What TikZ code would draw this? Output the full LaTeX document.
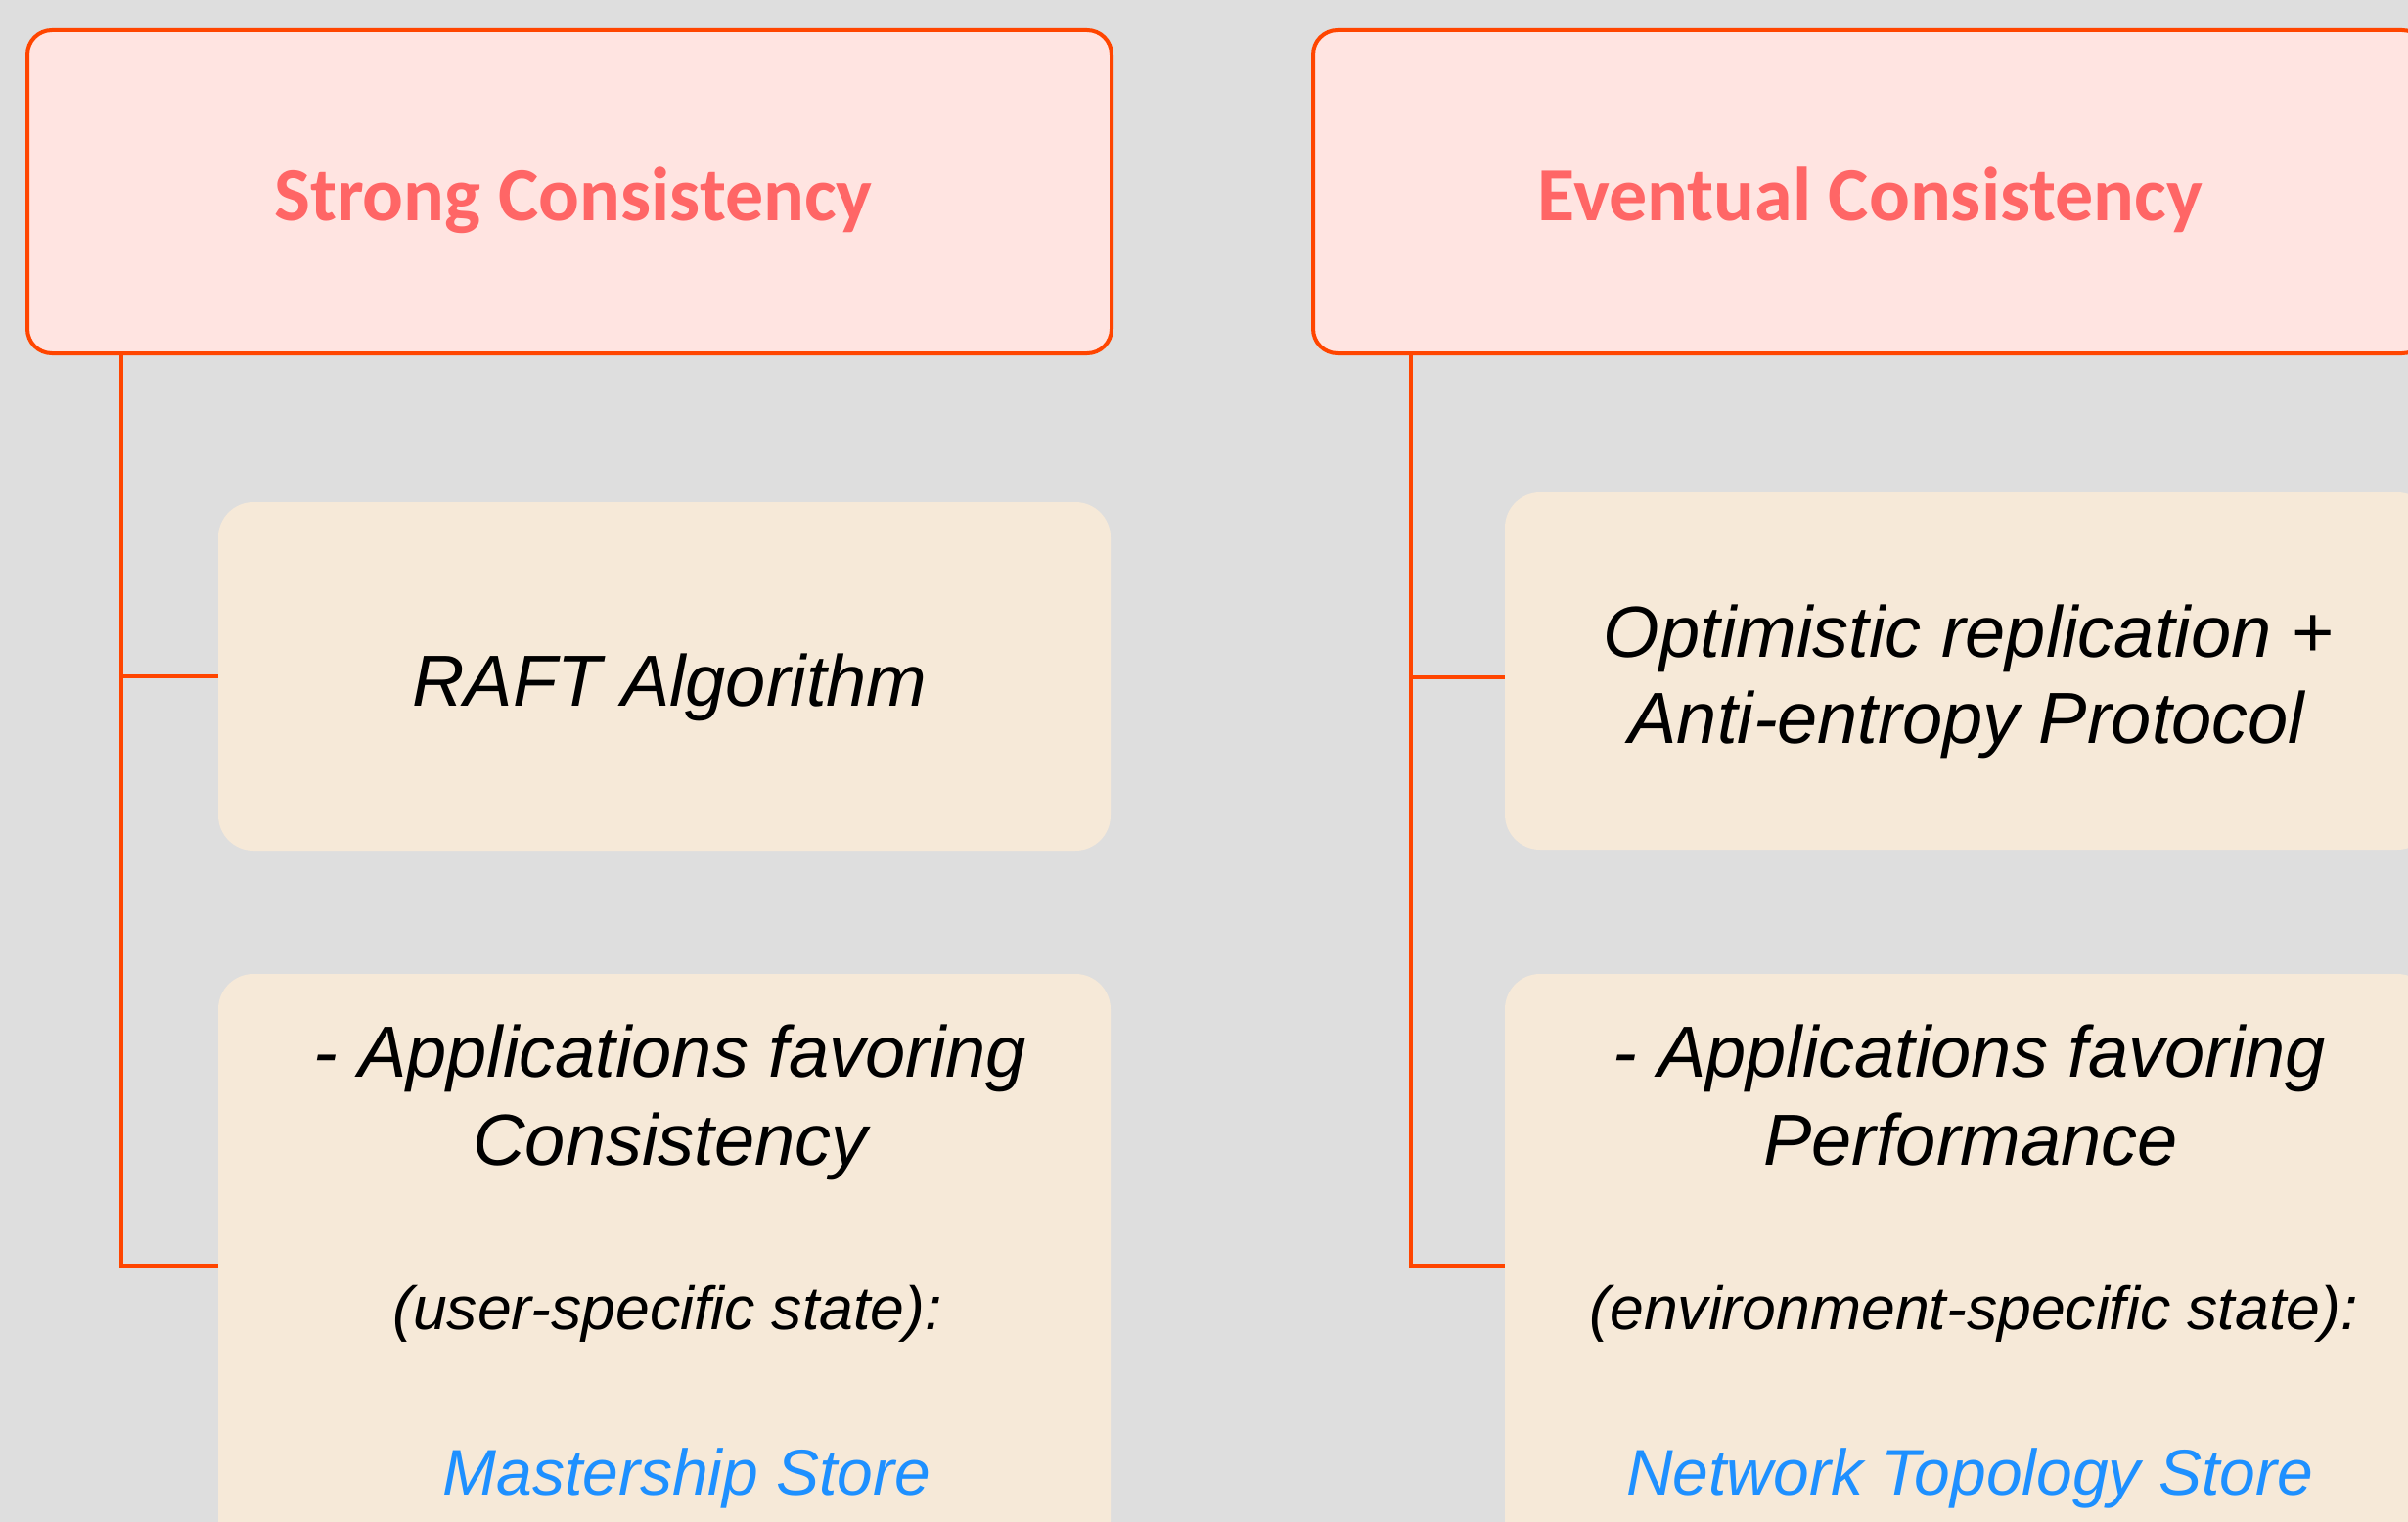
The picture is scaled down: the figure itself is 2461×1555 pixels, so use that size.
\documentclass[tikz,border=0pt]{standalone}
\usepackage{fontspec}
\setmainfont{Liberation Sans}
\newfontfamily\hdrfont{Carlito}
\definecolor{bgc}{HTML}{DEDEDE}
\definecolor{hdrfill}{HTML}{FFE4E1}
\definecolor{hdrline}{HTML}{FF4500}
\definecolor{hdrtext}{HTML}{FF6666}
\definecolor{boxfill}{HTML}{F6E9D8}
\definecolor{bluetext}{HTML}{1E90FF}
\tikzset{
  hdrbox/.style={rectangle, rounded corners=25pt, draw=hdrline, line width=4pt, fill=hdrfill, inner sep=0pt},
  itembox/.style={rectangle, rounded corners=36pt, fill=boxfill, draw=none, inner sep=0pt, minimum width=948pt},
  conn/.style={draw=hdrline, line width=4pt},
  hdrtxt/.style={anchor=base, inner sep=0pt, text=hdrtext, font=\hdrfont\bfseries\fontsize{78}{94}\selectfont},
  maintxt/.style={anchor=base, inner sep=0pt, text=black, font=\itshape\fontsize{74}{88}\selectfont},
  smalltxt/.style={anchor=base, inner sep=0pt, text=black, font=\itshape\fontsize{62.5}{75}\selectfont},
  bluetxt/.style={anchor=base, inner sep=0pt, text=bluetext, font=\itshape\fontsize{66}{79}\selectfont}
}
\begin{document}
\begin{tikzpicture}[x=1pt,y=-1pt]
\useasboundingbox (0,0) rectangle (2461,1555);
\fill[bgc] (0,0) rectangle (2461,1555);
\begin{scope}
\clip (0,0) rectangle (2461,1555);
% headers
\node[hdrbox, minimum width=1108pt, minimum height=330pt] (sc) at (582,196) {};
\node[hdrbox, minimum width=1138pt, minimum height=330pt] (ec) at (1911,196) {};
% item boxes
\node[itembox, minimum width=912pt, minimum height=356pt] (raft) at (679,691) {};
\node[itembox, minimum height=365pt] (optim) at (2012,685.5) {};
\node[itembox, minimum width=912pt, minimum height=595pt] (appc) at (679,1292.5) {};
\node[itembox, minimum height=595pt] (appp) at (2012,1292.5) {};
% connectors
\coordinate (lt) at (124,0);
\coordinate (rt) at (1442,0);
\draw[conn] (sc.south -| lt) |- (raft.west);
\draw[conn] (sc.south -| lt) |- (appc.west);
\draw[conn] (ec.south -| rt) |- ([yshift=-6.5pt]optim.west);
\draw[conn] (ec.south -| rt) |- (appp.west);
\end{scope}
% texts
\node[hdrtxt] (sct) at (586,225) {Strong Consistency};
\node[hdrtxt] (ect) at (1911.5,225) {Eventual Consistency};
\node[maintxt] (rafttxt) at (684.5,721) {RAFT Algorithm};
\node[maintxt] (opt1) at (2012,671) {Optimistic replication +};
\node[maintxt] (opt2) at (2010,759) {Anti-entropy Protocol};
\node[maintxt] (ac1) at (685,1100) {- Applications favoring};
\node[maintxt] (ac2) at (685,1190) {Consistency};
\node[smalltxt] (ac3) at (682,1358) {(user-specific state):};
\node[bluetxt] (ac4) at (702,1527) {Mastership Store};
\node[maintxt] (ap1) at (2013,1100) {- Applications favoring};
\node[maintxt] (ap2) at (2014,1190) {Performance};
\node[smalltxt] (ap3) at (2017,1358) {(environment-specific state):};
\node[bluetxt] (ap4) at (2013,1527) {Network Topology Store};
\end{tikzpicture}
\end{document}
